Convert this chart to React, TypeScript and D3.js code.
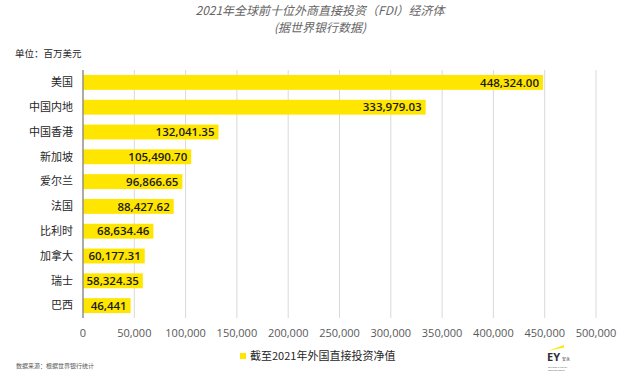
import React from 'react';
import * as d3 from 'd3';

const countries = ['美国', '中国内地', '中国香港', '新加坡', '爱尔兰', '法国', '比利时', '加拿大', '瑞士', '巴西'];
const fdiValues = [448324.0, 333979.03, 132041.35, 105490.7, 96866.65, 88427.62, 68634.46, 60177.31, 58324.35, 46441];
const valueLabels = ['448,324.00', '333,979.03', '132,041.35', '105,490.70', '96,866.65', '88,427.62', '68,634.46', '60,177.31', '58,324.35', '46,441'];
const xTicks = [0, 50000, 100000, 150000, 200000, 250000, 300000, 350000, 400000, 450000, 500000];

const CJK = '"Noto Sans CJK SC", "Noto Sans", sans-serif';
const NUM = '"Open Sans", "Noto Sans", sans-serif';

const App = () => {
    const width = 640;
    const height = 385;
    const plotLeft = 83;
    const plotRight = 596;
    const plotTop = 70;
    const plotBottom = 318;

    const x = d3.scaleLinear().domain([0, 500000]).range([plotLeft, plotRight]);
    const y = d3.scaleBand().domain(countries).range([plotTop, plotBottom]).paddingInner(0.4).paddingOuter(0.2);
    const fmt = d3.format(',');

    return (
        <svg width={width} height={height} style={{ position: 'absolute', left: 0, top: 0, background: '#fff' }}>
            {/* title */}
            <text x={320} y={15} textAnchor="middle" fontFamily={CJK} fontSize={12} fontStyle="italic" fill="#666">
                2021年全球前十位外商直接投资（FDI）经济体
            </text>
            <text x={320} y={32} textAnchor="middle" fontFamily={CJK} fontSize={12} fontStyle="italic" fill="#666">
                (据世界银行数据)
            </text>
            <text x={15} y={57} fontFamily={CJK} fontSize={9.5} fill="#262626">单位：百万美元</text>

            {/* grid */}
            {xTicks.map(t => (
                <line key={t} x1={x(t)} x2={x(t)} y1={plotTop} y2={plotBottom} stroke="#d9d9d9" strokeWidth={1} />
            ))}
            {xTicks.map(t => (
                <text key={'l' + t} x={x(t)} y={337} textAnchor="middle" fontFamily={NUM} fontSize={11} fill="#595959">
                    {fmt(t)}
                </text>
            ))}

            {/* bars */}
            {countries.map((c, i) => (
                <g key={c}>
                    <rect x={x(0)} y={y(c)} width={x(fdiValues[i]) - x(0)} height={y.bandwidth()} fill="#FFE600" />
                    <text x={73} y={(y(c) as number) + y.bandwidth() / 2} dy="0.35em" textAnchor="end"
                        fontFamily={CJK} fontSize={11} fill="#262626">{c}</text>
                    <text x={x(fdiValues[i]) - 4} y={(y(c) as number) + y.bandwidth() / 2} dy="0.36em" textAnchor="end"
                        fontFamily={NUM} fontSize={11.5} fontWeight={600} fill="#1a1a1a">{valueLabels[i]}</text>
                </g>
            ))}
            <line x1={plotLeft} x2={plotLeft} y1={plotTop} y2={plotBottom} stroke="#808080" strokeWidth={1.2} />

            {/* legend */}
            <rect x={240} y={353} width={6} height={6} fill="#FFE600" />
            <text x={250} y={360} fontFamily={CJK} fontSize={11} fill="#262626">截至2021年外国直接投资净值</text>

            {/* source */}
            <text x={16} y={368} fontFamily={CJK} fontSize={6} fill="#595959">数据来源：根据世界银行统计</text>

            {/* EY mark */}
            <path d="M548,351 L564,345 L564,347.5 Z" fill="#FFE600" />
            <text x={547} y={361} fontFamily={NUM} fontSize={11} fontWeight={700} fill="#2e2e38">EY</text>
            <text x={562} y={361} fontFamily={CJK} fontSize={4} fill="#2e2e38">安永</text>
            <text x={548} y={367.5} fontFamily={NUM} fontSize={2.5} fill="#555">Building a better</text>
            <text x={548} y={370.5} fontFamily={NUM} fontSize={2.5} fill="#555">working world</text>
        </svg>
    );
};

export default App;
